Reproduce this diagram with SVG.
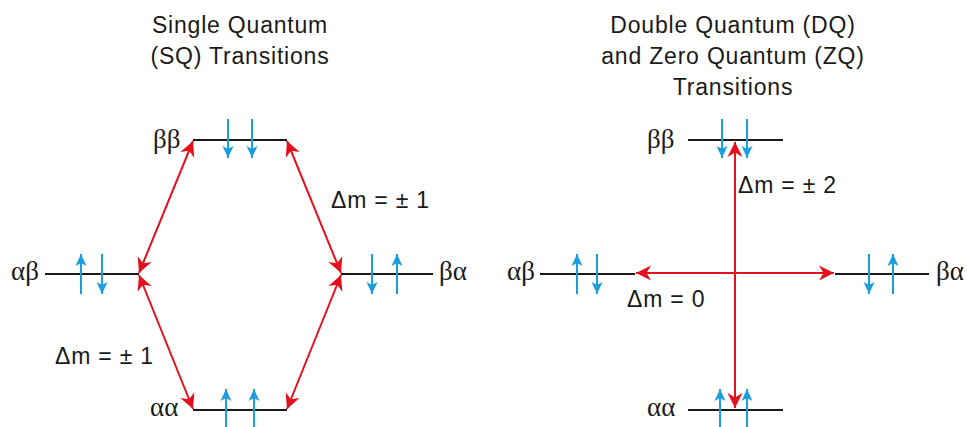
<svg xmlns="http://www.w3.org/2000/svg" width="967" height="427" viewBox="0 0 967 427">
<defs>
<style>
.lvl{stroke:#1a1a1a;stroke-width:2;fill:none}
.spin{stroke:#1a9ee0;stroke-width:2;fill:none;marker-end:url(#bh)}
.tr{stroke:#e3101e;stroke-width:2;fill:none;marker-start:url(#rh);marker-end:url(#rh)}
.t{font-family:"Liberation Sans",Arial,sans-serif;font-size:23px;letter-spacing:0.8px;fill:#1a1a1a}
.g{font-family:"Liberation Serif","Times New Roman",serif;font-size:27px;fill:#1a1a1a}
</style>
<marker id="rh" viewBox="-16 -8 17 16" refX="0" refY="0" markerWidth="17" markerHeight="16" markerUnits="userSpaceOnUse" orient="auto-start-reverse">
<path d="M0,0 L-15,-7.5 L-10.5,0 L-15,7.5 Z" fill="#e3101e"/>
</marker>
<marker id="bh" viewBox="-12 -6 13 12" refX="0" refY="0" markerWidth="13" markerHeight="12" markerUnits="userSpaceOnUse" orient="auto">
<path d="M0,0 L-12,-5.5 L-9,0 L-12,5.5 Z" fill="#1a9ee0"/>
</marker>
</defs>
<text class="t" x="240" y="33" text-anchor="middle">Single Quantum</text>
<text class="t" x="240" y="64" text-anchor="middle">(SQ) Transitions</text>
<text class="t" x="733" y="33" text-anchor="middle">Double Quantum (DQ)</text>
<text class="t" x="733" y="64" text-anchor="middle">and Zero Quantum (ZQ)</text>
<text class="t" x="733" y="95" text-anchor="middle">Transitions</text>

<g id="left-bb">
<line class="lvl" x1="193" y1="140" x2="287" y2="140"/>
<line class="spin" x1="228" y1="119" x2="228" y2="158"/>
<line class="spin" x1="252" y1="119" x2="252" y2="158"/>
<text class="g" x="153" y="148">ββ</text>
</g>
<g id="left-ab">
<line class="lvl" x1="45" y1="274" x2="139" y2="274"/>
<line class="spin" x1="81" y1="294" x2="81" y2="254"/>
<line class="spin" x1="102" y1="254" x2="102" y2="294"/>
<text class="g" x="11" y="280">αβ</text>
</g>
<g id="left-ba">
<line class="lvl" x1="341" y1="274" x2="433" y2="274"/>
<line class="spin" x1="372" y1="254" x2="372" y2="294"/>
<line class="spin" x1="397" y1="294" x2="397" y2="254"/>
<text class="g" x="439" y="280">βα</text>
</g>
<g id="left-aa">
<line class="lvl" x1="193" y1="410" x2="287" y2="410"/>
<line class="spin" x1="226" y1="428" x2="226" y2="389"/>
<line class="spin" x1="254" y1="428" x2="254" y2="389"/>
<text class="g" x="150" y="416">αα</text>
</g>

<g id="right-bb">
<line class="lvl" x1="688" y1="140" x2="783" y2="140"/>
<line class="spin" x1="722" y1="119" x2="722" y2="158"/>
<line class="spin" x1="747" y1="119" x2="747" y2="158"/>
<text class="g" x="647" y="148">ββ</text>
</g>
<g id="right-ab">
<line class="lvl" x1="540" y1="274" x2="635" y2="274"/>
<line class="spin" x1="577" y1="294" x2="577" y2="254"/>
<line class="spin" x1="597" y1="254" x2="597" y2="294"/>
<text class="g" x="507" y="280">αβ</text>
</g>
<g id="right-ba">
<line class="lvl" x1="835" y1="274" x2="929" y2="274"/>
<line class="spin" x1="869" y1="254" x2="869" y2="294"/>
<line class="spin" x1="893" y1="294" x2="893" y2="254"/>
<text class="g" x="936" y="280">βα</text>
</g>
<g id="right-aa">
<line class="lvl" x1="688" y1="410" x2="783" y2="410"/>
<line class="spin" x1="720" y1="428" x2="720" y2="389"/>
<line class="spin" x1="747" y1="428" x2="747" y2="389"/>
<text class="g" x="647" y="416">αα</text>
</g>

<g id="connectors">
<line class="tr" x1="193" y1="141" x2="139" y2="273"/>
<line class="tr" x1="287" y1="141" x2="341" y2="273"/>
<line class="tr" x1="139" y1="275" x2="193" y2="409"/>
<line class="tr" x1="341" y1="275" x2="287" y2="409"/>
<line class="tr" x1="735" y1="142" x2="735" y2="408"/>
<line class="tr" x1="636" y1="273" x2="834" y2="273"/>
</g>

<text class="t" x="331" y="208">Δm = ± 1</text>
<text class="t" x="55" y="364">Δm = ± 1</text>
<text class="t" x="738" y="193">Δm = ± 2</text>
<text class="t" x="627" y="307">Δm = 0</text>
</svg>
